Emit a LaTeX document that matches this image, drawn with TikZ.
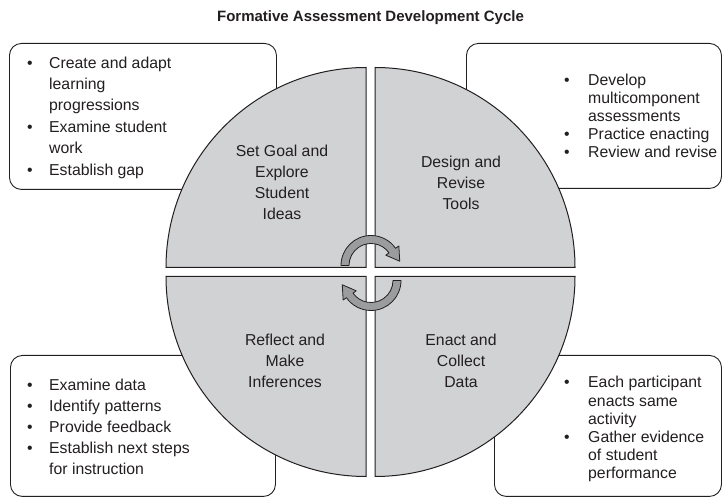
\documentclass[tikz,border=0pt]{standalone}
\usepackage{fontspec}
\setmainfont{Liberation Sans}
\usetikzlibrary{calc}
\definecolor{secfill}{HTML}{D1D2D4}
\definecolor{arrfill}{HTML}{9B9C9E}
\definecolor{ink}{HTML}{231F20}
\begin{document}
\begin{tikzpicture}[x=1pt,y=1pt,
  txt/.style={font=\fontsize{15.8}{19}\selectfont, text=ink, inner sep=0pt, anchor=base west},
  ctr/.style={font=\fontsize{15.8}{19}\selectfont, text=ink, inner sep=0pt, anchor=base},
  bul/.style={font=\fontsize{15.8}{19}\selectfont, text=ink, inner sep=0pt, anchor=base},
  boxst/.style={draw=ink, line width=0.9pt, rounded corners=12pt, fill=white, inner sep=0pt},
  sector/.style={fill=secfill, draw=ink, line width=1pt},
  cyc/.style={fill=arrfill, draw=ink, line width=0.8pt, line join=round}]
\useasboundingbox (0,0) rectangle (722,497);
% title
\node[font=\bfseries\fontsize{15}{18}\selectfont, text=ink, anchor=base, inner sep=0pt] (title) at (370.5,475) {Formative Assessment Development Cycle};
% boxes
\node[boxst, anchor=north west, minimum width=267, minimum height=146] (tlbox) at (9,454) {};
\node[boxst, anchor=north west, minimum width=255, minimum height=145] (trbox) at (466,454) {};
\node[boxst, anchor=north west, minimum width=265, minimum height=141] (blbox) at (10,142) {};
\node[boxst, anchor=north west, minimum width=227, minimum height=141] (brbox) at (494,142) {};
% sectors
\filldraw[sector] (366,229.5) -- (166,229.5) arc (180:90:200) -- cycle;
\filldraw[sector] (375,229.5) -- (375,429.5) arc (90:0:200) -- cycle;
\filldraw[sector] (366,220.5) -- (366,20.5) arc (270:180:200) -- cycle;
\filldraw[sector] (375,220.5) -- (575,220.5) arc (0:-90:200) -- cycle;
% cycle arrows
\coordinate (c1) at (371,231.5);
\coordinate (c2) at (371,216.5);
\filldraw[cyc] ($(c1)+(180:30)$) arc (180:35:30) -- ($(c1)+(35:34)$) -- ($(c1)+(35:26)+(-55:13)$) -- ($(c1)+(35:18)$) -- ($(c1)+(35:22)$) arc (35:180:22) -- cycle;
\filldraw[cyc] ($(c2)+(0:30)$) arc (0:-145:30) -- ($(c2)+(-145:34)$) -- ($(c2)+(-145:26)+(125:13)$) -- ($(c2)+(-145:18)$) -- ($(c2)+(-145:22)$) arc (-145:0:22) -- cycle;
% quadrant labels
\foreach \t [count=\i] in {Set Goal and, Explore, Student, Ideas}
  \node[ctr] (qa\i) at (282,{340.3-20.9*(\i-1)}) {\t};
\foreach \t [count=\i] in {Design and, Revise, Tools}
  \node[ctr] (qb\i) at (461,{329.7-21*(\i-1)}) {\t};
\foreach \t [count=\i] in {Reflect and, Make, Inferences}
  \node[ctr] (qc\i) at (285,{151.5-21*(\i-1)}) {\t};
\foreach \t [count=\i] in {Enact and, Collect, Data}
  \node[ctr] (qd\i) at (461,{151.5-21*(\i-1)}) {\t};
% box texts
\foreach \t [count=\i] in {Create and adapt, learning, progressions, Examine student, work, Establish gap}
  \node[txt] (tl\i) at (49,{428.7-21.35*(\i-1)}) {\t};
\foreach \i in {1,4,6}
  \node[bul] (tlb\i) at (30,{428.7-21.35*(\i-1)}) {•};
\foreach \t [count=\i] in {Develop, multicomponent, assessments, Practice enacting, Review and revise}
  \node[txt] (tr\i) at (588,{411-18*(\i-1)}) {\t};
\foreach \i in {1,4,5}
  \node[bul] (trb\i) at (567,{411-18*(\i-1)}) {•};
\foreach \t [count=\i] in {Examine data, Identify patterns, Provide feedback, Establish next steps, for instruction}
  \node[txt] (bl\i) at (49,{106-21*(\i-1)}) {\t};
\foreach \i in {1,2,3,4}
  \node[bul] (blb\i) at (30,{106-21*(\i-1)}) {•};
\foreach \t [count=\i] in {Each participant, enacts same, activity, Gather evidence, of student, performance}
  \node[txt] (br\i) at (588,{109-18.2*(\i-1)}) {\t};
\foreach \i in {1,4}
  \node[bul] (brb\i) at (567,{109-18.2*(\i-1)}) {•};
\end{tikzpicture}
\end{document}
